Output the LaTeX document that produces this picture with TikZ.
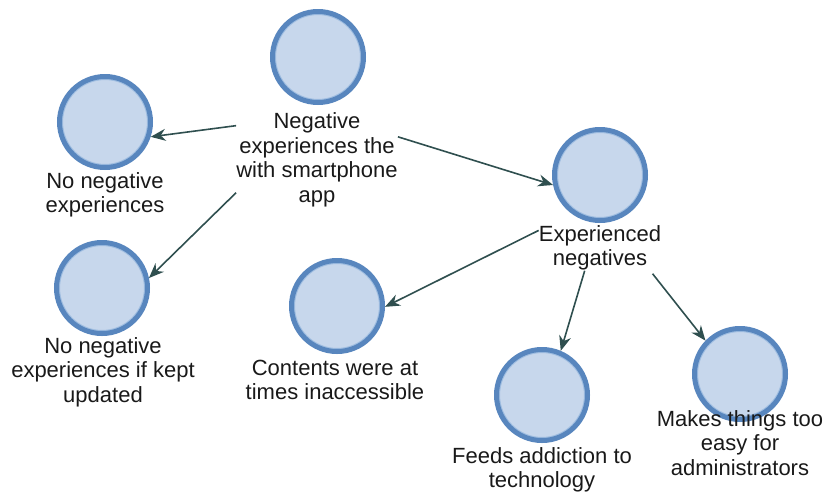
\documentclass[tikz,border=0pt]{standalone}
\usepackage{fontspec}
\setmainfont{Liberation Sans}
\usetikzlibrary{arrows.meta}
\definecolor{ringblue}{RGB}{88,134,190}
\definecolor{ringlight}{RGB}{160,190,225}
\definecolor{fillblue}{RGB}{199,215,236}
\definecolor{arrowcol}{RGB}{47,79,79}
\definecolor{textcol}{RGB}{25,25,25}
\tikzset{
  circ/.style={circle, draw=ringblue, fill=fillblue, line width=5pt, inner sep=0pt, minimum size=91pt,
    path picture={\draw[ringlight, line width=1.3pt] (path picture bounding box.center) circle (42.6pt);}},
  lbl/.style={align=center, inner sep=0pt, text=textcol, font=\fontsize{22}{24.5}\selectfont},
  conn/.style={draw=arrowcol, line width=1.6pt, -{Stealth[length=15pt,width=12pt]}}
}
\begin{document}
\begin{tikzpicture}[x=1pt,y=-1pt]
\useasboundingbox (0,0) rectangle (826,491);
% circles
\node[circ] (root)  at (318,57)  {};
\node[circ] (noneg) at (105,122) {};
\node[circ] (kept)  at (102,288) {};
\node[circ] (exp)   at (600,175) {};
\node[circ] (cont)  at (337,306) {};
\node[circ] (feeds) at (542,395) {};
\node[circ] (makes) at (740,374) {};
% labels
\node[lbl] (rootlabel)  at (317,160) {Negative\\experiences the\\with smartphone\\app};
\node[lbl] (noneglabel) at (105,195) {No negative\\experiences};
\node[lbl] (keptlabel)  at (103,372) {No negative\\experiences if kept\\updated};
\node[lbl] (explabel)   at (600,248) {Experienced\\negatives};
\node[lbl] (contlabel)  at (335,380) {Contents were at\\times inaccessible};
\node[lbl] (feedslabel) at (542,470) {Feeds addiction to\\technology};
\node[lbl] (makeslabel) at (740,443) {Makes things too\\easy for\\administrators};
% connectors
\draw[conn] (rootlabel.157) -- (noneg.-18);
\draw[conn] (rootlabel.202) -- (kept.12);
\draw[conn] (rootlabel.16) -- (exp.-168);
\draw[conn] (explabel.164) -- (cont.-1);
\draw[conn] (explabel.-124) -- (feeds.67);
\draw[conn] ([xshift=6pt,yshift=-3pt]explabel.-26) -- (makes.136);
\end{tikzpicture}
\end{document}
